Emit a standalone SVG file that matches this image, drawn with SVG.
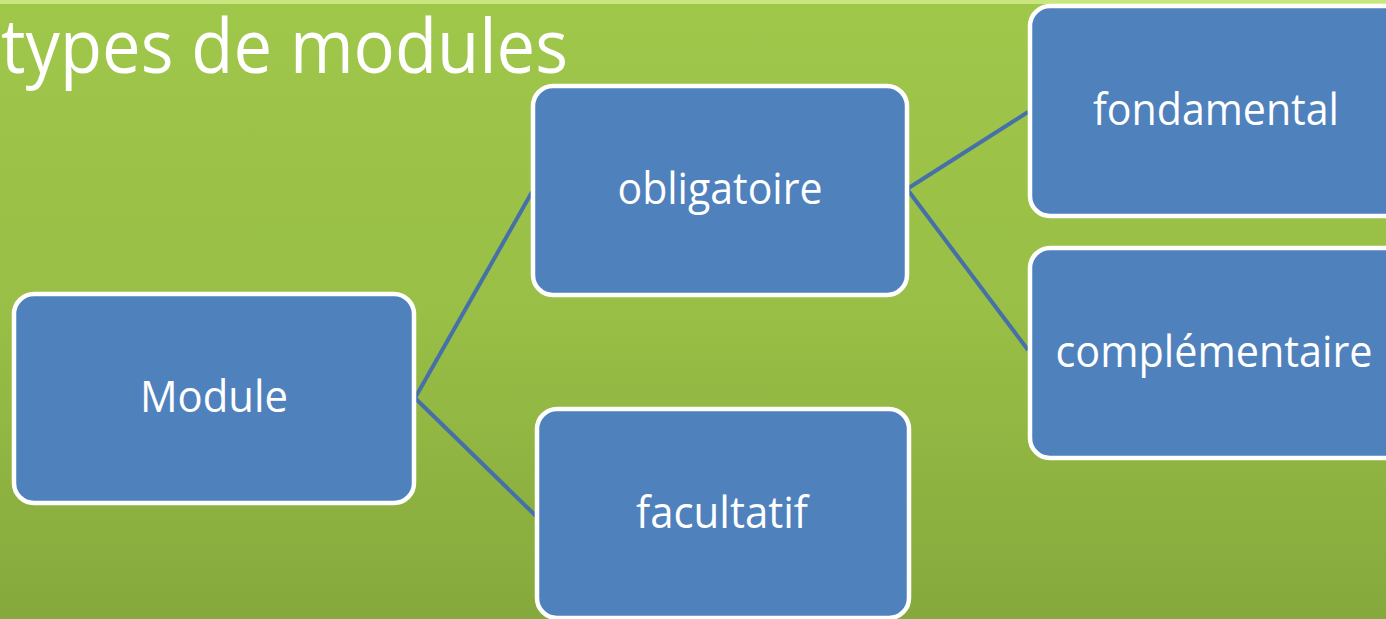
<svg xmlns="http://www.w3.org/2000/svg" width="1386" height="619" viewBox="0 0 1386 619">
<defs>
<linearGradient id="bg" x1="0" y1="0" x2="0" y2="1">
<stop offset="0" stop-color="#9fc74a"/>
<stop offset="0.5" stop-color="#99bf46"/>
<stop offset="1" stop-color="#86a93d"/>
</linearGradient>
<style>
.box{fill:#4f81bd;stroke:#ffffff;stroke-width:4.5}
.lbl{font-family:"Open Sans","Noto Sans","Liberation Sans",sans-serif;font-size:44px;fill:#ffffff;text-anchor:middle}
.title{font-family:"Open Sans","Noto Sans","Liberation Sans",sans-serif;font-size:75px;fill:#ffffff}
.conn{stroke:#4670a8;stroke-width:4;fill:none}
</style>
</defs>
<rect x="0" y="0" width="1386" height="619" fill="url(#bg)"/>
<rect x="0" y="0" width="1386" height="4" fill="#c8e87f"/>
<text class="title" x="1" y="73" textLength="567" lengthAdjust="spacingAndGlyphs">types de modules</text>
<g id="connectors">
<path class="conn" d="M415 398 L532 192"/>
<path class="conn" d="M415 398 L536 516"/>
<path class="conn" d="M907 189 L1028 112"/>
<path class="conn" d="M907 189 L1028 350"/>
</g>
<g id="node-module">
<rect class="box" x="14" y="294" width="400" height="209" rx="20"/>
<text class="lbl" x="214" y="412" textLength="148" lengthAdjust="spacingAndGlyphs">Module</text>
</g>
<g id="node-obligatoire">
<rect class="box" x="533" y="86" width="374" height="209" rx="20"/>
<text class="lbl" x="720" y="204" textLength="205" lengthAdjust="spacingAndGlyphs">obligatoire</text>
</g>
<g id="node-facultatif">
<rect class="box" x="537" y="409" width="372" height="209" rx="20"/>
<text class="lbl" x="722" y="528" textLength="172" lengthAdjust="spacingAndGlyphs">facultatif</text>
</g>
<g id="node-fondamental">
<rect class="box" x="1030" y="6" width="380" height="210" rx="20"/>
<text class="lbl" x="1216" y="125" textLength="246" lengthAdjust="spacingAndGlyphs">fondamental</text>
</g>
<g id="node-complementaire">
<rect class="box" x="1030" y="248" width="380" height="210" rx="20"/>
<text class="lbl" x="1214" y="367" textLength="317" lengthAdjust="spacingAndGlyphs">complémentaire</text>
</g>
</svg>
